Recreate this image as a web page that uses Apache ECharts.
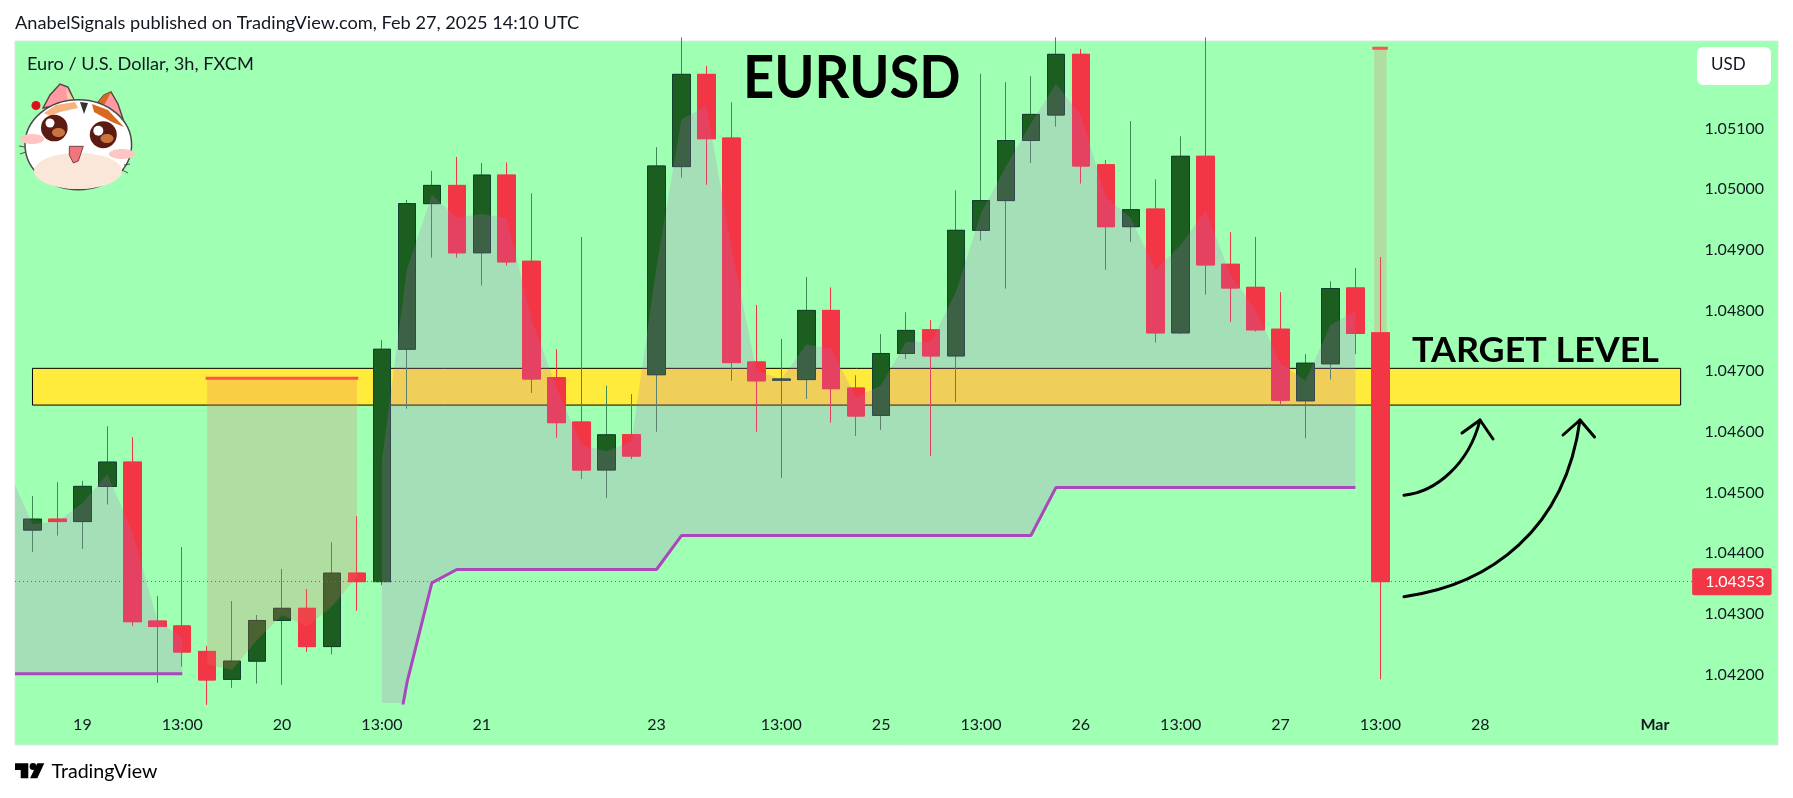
<!DOCTYPE html>
<html>
<head>
<meta charset="utf-8">
<title>EURUSD</title>
<script src="https://cdn.jsdelivr.net/npm/echarts@6/dist/echarts.min.js"></script>
<style>
    html, body { margin: 0; padding: 0; background: #fff; }
    #main { width: 1793px; height: 798px; }
</style>
</head>
<body>
<div id="main"></div>
<script>
    // 3h candles
    const opens = [1.04438,1.04456,1.04452,1.04510,1.04550,1.04288,1.04280,1.04238,1.04192,1.04222,1.04289,1.04309,1.04246,1.04367,1.04353,1.04736,1.04976,1.05006,1.04895,1.05023,1.04881,1.04689,1.04616,1.04537,1.04595,1.04694,1.05037,1.05189,1.05084,1.04715,1.04685,1.04686,1.04800,1.04672,1.04627,1.04729,1.04768,1.04725,1.04932,1.04981,1.05080,1.05122,1.05222,1.05040,1.04938,1.04967,1.04763,1.05054,1.04876,1.04838,1.04769,1.04651,1.04712,1.04837,1.04763];
    const closes = [1.04456,1.04452,1.04510,1.04550,1.04287,1.04279,1.04237,1.04191,1.04222,1.04289,1.04309,1.04246,1.04367,1.04353,1.04736,1.04976,1.05006,1.04895,1.05023,1.04880,1.04687,1.04615,1.04537,1.04595,1.04560,1.05038,1.05189,1.05083,1.04714,1.04684,1.04687,1.04800,1.04671,1.04626,1.04729,1.04767,1.04725,1.04932,1.04981,1.05080,1.05123,1.05222,1.05038,1.04938,1.04966,1.04763,1.05054,1.04875,1.04837,1.04768,1.04652,1.04713,1.04836,1.04762,1.04353];
    const lows = [1.04402,1.04429,1.04407,1.04480,1.04280,1.04186,1.04213,1.04150,1.04178,1.04185,1.04183,1.04237,1.04233,1.04305,1.04347,1.04638,1.04887,1.04887,1.04841,1.04874,1.04664,1.04590,1.04522,1.04491,1.04555,1.04600,1.05019,1.05007,1.04684,1.04600,1.04524,1.04654,1.04615,1.04593,1.04603,1.04720,1.04560,1.04649,1.04915,1.04836,1.05043,1.05103,1.05009,1.04867,1.04913,1.04747,1.04761,1.04826,1.04781,1.04765,1.04645,1.04589,1.04686,1.04728,1.04192];
    const highs = [1.04494,1.04517,1.04519,1.04609,1.04591,1.04329,1.04410,1.04247,1.04321,1.04298,1.04374,1.04341,1.04418,1.04461,1.04751,1.04982,1.05030,1.05053,1.05043,1.05044,1.04993,1.04736,1.04921,1.04676,1.04662,1.05069,1.05250,1.05203,1.05143,1.04809,1.04753,1.04855,1.04838,1.04693,1.04761,1.04797,1.04784,1.04998,1.05190,1.05176,1.05186,1.05250,1.05231,1.05048,1.05112,1.05016,1.05087,1.05250,1.04929,1.04921,1.04830,1.04728,1.04848,1.04870,1.04888];

    // purple cloud, first piece starts at the pane edge
    const cloudOneX = [-0.7,0,1,2,3,4,5,6];
    const cloudOneUpper = [1.04512,1.04448,1.04452,1.04482,1.04530,1.04435,1.04290,1.04260];
    const cloudOneLower = [1.04201,1.04201,1.04201,1.04201,1.04201,1.04201,1.04201,1.04201];
    // second piece, candles 14 to 53
    const cloudTwoUpper = [1.04553,1.04867,1.04990,1.04953,1.04959,1.04952,1.04784,1.04672,1.04578,1.04568,1.04584,1.04872,1.05115,1.05137,1.04905,1.04701,1.04687,1.04744,1.04737,1.04656,1.04677,1.04748,1.04748,1.04831,1.04960,1.05037,1.05108,1.05173,1.05122,1.04987,1.04952,1.04867,1.04908,1.04965,1.04858,1.04801,1.04713,1.04684,1.04776,1.04799];
    const cloudTwoLower = [1.03957,1.04186,1.04351,1.04373,1.04373,1.04373,1.04373,1.04373,1.04373,1.04373,1.04373,1.04373,1.04429,1.04429,1.04429,1.04429,1.04429,1.04429,1.04429,1.04429,1.04429,1.04429,1.04429,1.04429,1.04429,1.04429,1.04429,1.04508,1.04508,1.04508,1.04508,1.04508,1.04508,1.04508,1.04508,1.04508,1.04508,1.04508,1.04508,1.04508];
    const cloudTwoStart = 14;

    // red stop line with its band, candles 7 to 13 and the last candle
    const bandOneLevel = 1.04688;
    const bandOneCurve = [1.04216,1.04208,1.04257,1.04298,1.04279,1.04312,1.04361];
    const bandOneStart = 7;
    const bandTwoLevel = 1.05232;
    const bandTwoX = [53.75,54.25];
    const bandTwoCurve = [1.04763,1.04763];

    const targetZone = [1.047045, 1.04644];
    const lastPrice = 1.04353;

    const priceTicks = [1.042,1.043,1.044,1.045,1.046,1.047,1.048,1.049,1.050,1.051];
    const timeTicks = [2,6,10,14,18,25,30,34,38,42,46,50,54,58,65];
    const timeLabels = ['19','13:00','20','13:00','21','23','13:00','25','13:00','26','13:00','27','13:00','28','Mar'];

    const FONT = 'Lato';
    const TEXT = '#131722';
    const PURPLE = '#AB47BC';
    const CLOUD = 'rgba(181,108,201,0.22)';
    const BAND = 'rgba(231,114,98,0.235)';

    const chartDom = document.getElementById('main');
    const myChart = echarts.init(chartDom);

    const candleRows = opens.map((o, i) => [i, o, closes[i], lows[i], highs[i]]);
    const bodyRows = opens.map((o, i) => [i, o, closes[i], Math.min(o, closes[i]), Math.max(o, closes[i])]);

    // filled polygon between two curves, placed through the axes
    function ribbon(name, xs, lower, upper, fill) {
        return {
            type: 'custom', name: name, z: 4, silent: true, clip: true,
            data: [[xs[0], upper[0]]],
            renderItem: function (params, api) {
                const top = xs.map((x, i) => api.coord([x, upper[i]]));
                const bottom = xs.map((x, i) => api.coord([x, lower[i]])).reverse();
                return { type: 'polygon', shape: { points: top.concat(bottom) }, style: { fill: fill } };
            }
        };
    }

    function edgeLine(xs, values) {
        return {
            type: 'line', z: 5, symbol: 'none', silent: true,
            data: xs.map((x, i) => [x, values[i]]),
            lineStyle: { color: PURPLE, width: 3 }
        };
    }

    function flatLine(x0, x1, level) {
        return {
            type: 'line', z: 5, symbol: 'none', silent: true,
            data: [[x0, level], [x1, level]],
            lineStyle: { color: '#FF5252', width: 3 }
        };
    }

    const cloudTwoX = cloudTwoUpper.map((v, i) => cloudTwoStart + i);
    const bandOneX = bandOneCurve.map((v, i) => bandOneStart + i);

    const series = [
        {
            type: 'line', name: 'target zone', z: 1, data: [], silent: true,
            markArea: {
                silent: true,
                itemStyle: { color: '#FFEB3B', borderColor: '#000', borderWidth: 1 },
                data: [[{ coord: [0, targetZone[0]] }, { coord: [66.03, targetZone[1]] }]]
            }
        },
        {
            type: 'candlestick', name: 'wicks', z: 2, barWidth: 18, data: candleRows,
            encode: { x: 0, y: [1, 2, 3, 4] }, silent: true,
            itemStyle: { color: '#1B5E20', color0: '#F23645', borderColor: '#3F8A52', borderColor0: '#F23645', borderWidth: 1 }
        },
        {
            type: 'candlestick', name: 'bodies', z: 3, barWidth: 18, data: bodyRows,
            encode: { x: 0, y: [1, 2, 3, 4] }, silent: true,
            itemStyle: { color: '#1B5E20', color0: '#F23645', borderColor: '#123F2F', borderColor0: '#F23645', borderWidth: 1 },
            markLine: {
                silent: true, symbol: 'none', animation: false,
                lineStyle: { color: '#F23645', type: [1, 3], width: 1 },
                label: {
                    position: 'end', distance: 0, formatter: lastPrice.toFixed(5),
                    color: '#fff', fontFamily: FONT, fontSize: 16, lineHeight: 20,
                    backgroundColor: '#F23645', padding: [4, 7, 3, 13], borderRadius: 2
                },
                data: [[{ coord: [-0.7, lastPrice] }, { coord: [66.49, lastPrice] }]]
            }
        },
        ribbon('cloud one', cloudOneX, cloudOneLower, cloudOneUpper, CLOUD),
        ribbon('cloud two', cloudTwoX, cloudTwoLower, cloudTwoUpper, CLOUD),
        ribbon('band one', bandOneX, bandOneCurve, bandOneCurve.map(() => bandOneLevel), BAND),
        ribbon('band two', bandTwoX, bandTwoCurve, bandTwoCurve.map(() => bandTwoLevel), BAND),
        edgeLine(cloudOneX, cloudOneLower),
        edgeLine(cloudTwoX, cloudTwoLower),
        flatLine(6.94, 13.05, bandOneLevel),
        flatLine(53.68, 54.3, bandTwoLevel)
    ];

    // hand drawn arrows, logo and stickers sit on top as plain graphics
    const arrowStyle = { stroke: '#000', lineWidth: 3, fill: null, lineCap: 'round', lineJoin: 'round' };
    const catLine = { stroke: '#55504c', lineWidth: 1, fill: null };
    const graphics = [
        { type: 'rect', z: -10, shape: { x: 15, y: 41, width: 1763, height: 704 }, style: { fill: '#9FFFB3', stroke: '#E0E3EB', lineWidth: 1 } },
        { type: 'text', z: 50, x: 15, y: 23, style: { text: 'AnabelSignals published on TradingView.com, Feb 27, 2025 14:10 UTC', font: '18.2px ' + FONT, fill: TEXT, textVerticalAlign: 'middle' } },
        { type: 'text', z: 50, x: 27, y: 64, style: { text: 'Euro / U.S. Dollar, 3h, FXCM', font: '18.2px ' + FONT, fill: TEXT, textVerticalAlign: 'middle' } },
        { type: 'text', z: 50, x: 743, y: 79, scaleX: 0.905, style: { text: 'EURUSD', font: 'bold 60px ' + FONT, fill: '#000', textVerticalAlign: 'middle' } },
        { type: 'text', z: 50, x: 1412, y: 351, scaleX: 1.025, style: { text: 'TARGET LEVEL', font: 'bold 35px ' + FONT, fill: '#000', textVerticalAlign: 'middle' } },
        { type: 'rect', z: 50, shape: { x: 1697, y: 47, width: 74, height: 38, r: 6 }, style: { fill: '#fff' } },
        { type: 'text', z: 51, x: 1711, y: 65, style: { text: 'USD', font: '17px ' + FONT, fill: TEXT, textVerticalAlign: 'middle' } },
        { type: 'bezierCurve', z: 50, shape: { x1: 1404, y1: 495.3, cpx1: 1436, cpy1: 492, cpx2: 1469, cpy2: 464, x2: 1480, y2: 420 }, style: arrowStyle },
        { type: 'polyline', z: 50, shape: { points: [[1462, 433], [1480, 420], [1493, 439]] }, style: arrowStyle },
        { type: 'bezierCurve', z: 50, shape: { x1: 1404, y1: 596.7, cpx1: 1490, cpy1: 585, cpx2: 1565, cpy2: 530, x2: 1580, y2: 420 }, style: arrowStyle },
        { type: 'polyline', z: 50, shape: { points: [[1563, 435], [1580, 420], [1594.5, 437]] }, style: arrowStyle },
        // TradingView mark
        { type: 'polygon', z: 50, shape: { points: [[15,763.3],[28.3,763.3],[28.3,778.3],[20.7,778.3],[20.7,770],[15,770]] }, style: { fill: '#000' } },
        { type: 'circle', z: 50, shape: { cx: 33, cy: 766.5, r: 3.4 }, style: { fill: '#000' } },
        { type: 'polygon', z: 50, shape: { points: [[37.3,763.3],[44.3,763.3],[37.3,778.3],[30,778.3]] }, style: { fill: '#000' } },
        { type: 'text', z: 50, x: 51.5, y: 772, style: { text: 'TradingView', font: '19.6px ' + FONT, fill: '#000', textVerticalAlign: 'middle' } },
        // cat sticker
        { type: 'polygon', z: 50, shape: { points: [[43,108],[50,95],[60,84],[68,87],[75,102]] }, style: { fill: '#FF9AA2', stroke: '#55433f', lineWidth: 1.4 } },
        { type: 'polygon', z: 50, shape: { points: [[66,88],[75,102],[68,104]] }, style: { fill: '#F7D2A8' } },
        { type: 'polygon', z: 50, shape: { points: [[95,106],[104,95],[111,92],[118,104],[126,128]] }, style: { fill: '#FF9AA2', stroke: '#55433f', lineWidth: 1.4 } },
        { type: 'polygon', z: 50, shape: { points: [[95,106],[104,95],[111,92],[107,100],[101,110]] }, style: { fill: '#D9691F' } },
        { type: 'ellipse', z: 51, shape: { cx: 78.3, cy: 144.7, rx: 53.3, ry: 45 }, style: { fill: '#fff', stroke: '#4a4a4a', lineWidth: 1.5 } },
        { type: 'polygon', z: 52, shape: { points: [[44,113],[56,105],[75,102],[78,108],[60,112],[50,116]] }, style: { fill: '#F6B37F' } },
        { type: 'polygon', z: 52, shape: { points: [[92,104],[108,110],[124,127],[112,122],[94,112]] }, style: { fill: '#D9691F' } },
        { type: 'polygon', z: 52, shape: { points: [[80,102],[88,103],[84,114]] }, style: { fill: '#333' } },
        { type: 'ellipse', z: 52, shape: { cx: 78, cy: 171, rx: 44, ry: 18 }, style: { fill: '#FBE6DA' } },
        { type: 'ellipse', z: 52, shape: { cx: 32, cy: 139, rx: 12, ry: 5 }, style: { fill: '#FFC4C4' } },
        { type: 'ellipse', z: 52, shape: { cx: 122, cy: 154, rx: 13, ry: 5 }, style: { fill: '#FFC4C4' } },
        { type: 'circle', z: 52, shape: { cx: 54.3, cy: 128, r: 13.3 }, style: { fill: '#5B1A12' } },
        { type: 'circle', z: 52, shape: { cx: 103.3, cy: 134.7, r: 13.5 }, style: { fill: '#5B1A12' } },
        { type: 'ellipse', z: 53, shape: { cx: 58.5, cy: 132.5, rx: 6.5, ry: 4.5 }, style: { fill: '#C9743F' } },
        { type: 'ellipse', z: 53, shape: { cx: 107, cy: 138.5, rx: 6.5, ry: 4.5 }, style: { fill: '#C9743F' } },
        { type: 'circle', z: 54, shape: { cx: 50, cy: 123, r: 4.5 }, style: { fill: '#fff' } },
        { type: 'circle', z: 54, shape: { cx: 98.3, cy: 130.7, r: 5 }, style: { fill: '#fff' } },
        { type: 'polygon', z: 52, shape: { points: [[69.3,146.3],[83.3,146.3],[78.3,161],[73.3,163],[69.3,155]] }, style: { fill: '#F0757F', stroke: '#5B2A2A', lineWidth: 0.8 } },
        { type: 'polyline', z: 52, shape: { points: [[25,147],[19,146]] }, style: catLine },
        { type: 'polyline', z: 52, shape: { points: [[26,152],[20,154]] }, style: catLine },
        { type: 'polyline', z: 52, shape: { points: [[124,165],[130,164]] }, style: catLine },
        { type: 'polyline', z: 52, shape: { points: [[122,170],[128,173]] }, style: catLine },
        { type: 'circle', z: 53, shape: { cx: 36, cy: 105.5, r: 4.5 }, style: { fill: '#E0101A' } }
    ];

    const option = {
        animation: false,
        backgroundColor: '#fff',
        textStyle: { fontFamily: FONT },
        grid: { left: 15, top: 41, width: 1763, height: 662, containLabel: false },
        xAxis: {
            type: 'value', min: -0.7, max: 69.93,
            splitLine: { show: false }, axisLine: { show: false }, axisTick: { show: false },
            axisLabel: {
                customValues: timeTicks, margin: 14, color: TEXT, fontSize: 16, fontFamily: FONT,
                hideOverlap: false, showMinLabel: true, showMaxLabel: true,
                formatter: function (v) {
                    const label = timeLabels[timeTicks.indexOf(v)];
                    return label === 'Mar' ? '{b|Mar}' : label;
                },
                rich: { b: { fontWeight: 'bold', fontSize: 16, fontFamily: FONT, color: TEXT } }
            }
        },
        yAxis: {
            type: 'value', position: 'right', scale: true, min: 1.04153, max: 1.05244,
            splitLine: { show: false }, axisLine: { show: false }, axisTick: { show: false },
            axisLabel: {
                customValues: priceTicks, inside: true, margin: 14, color: TEXT, fontSize: 16, fontFamily: FONT,
                formatter: function (v) { return v.toFixed(5); }
            }
        },
        graphic: { elements: graphics },
        series: series
    };

    option && myChart.setOption(option);
</script>
</body>
</html>
